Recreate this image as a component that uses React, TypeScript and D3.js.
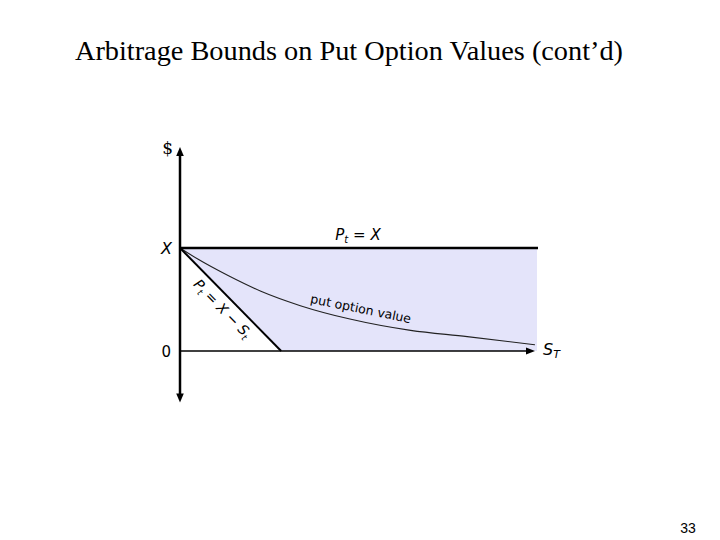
import React from 'react';
import * as d3 from 'd3';

// values (strike X = 100)
const strike = 100;
const stockPrices = [0, 18, 48, 80, 119, 168, 228, 284, 351];
const putValues = [100, 89, 73, 58, 44, 31, 20, 14, 6];
const sMax = 353;
const yTop = 198;
const yBottom = -50;

const title = 'Arbitrage Bounds on Put Option Values (cont\u2019d)';
const pageNumber = '33';

const width = 720;
const height = 540;
const labelFont = '"DejaVu Sans", sans-serif';

const App = () => {
  const x = d3.scaleLinear().domain([0, sMax]).range([180, 537]);
  const y = d3.scaleLinear().domain([0, strike]).range([351, 248]);

  const points: [number, number][] = stockPrices.map((s, i) => [s, putValues[i]]);
  const curve = d3
    .line<[number, number]>()
    .x(d => x(d[0]))
    .y(d => y(d[1]))
    .curve(d3.curveMonotoneX)(points);

  const x0 = x(0);
  const y0 = y(0);
  const yX = y(strike);
  const yUp = y(yTop);
  const yDown = y(yBottom);
  const xEnd = x(sMax);

  // shaded region between P = X and zero
  const fillPath = `M${x0},${yX}H${xEnd}V${y0}H${x0}Z`;

  return (
    <svg
      width={width}
      height={height}
      style={{ position: 'absolute', left: 0, top: 0, background: '#fff' }}
    >
      <text
        x={349}
        y={60}
        textAnchor="middle"
        fontFamily='"Liberation Serif", "Times New Roman", serif'
        fontSize={28.3}
      >
        {title}
      </text>

      <path d={fillPath} fill="#e4e4fa" />
      {/* intrinsic value triangle left white */}
      <path d={`M${x0},${yX}L${x(strike)},${y0}H${x0}Z`} fill="#fff" />

      {/* put option value curve */}
      <path d={curve || ''} fill="none" stroke="#222" strokeWidth={1.1} />

      {/* P = X - S line */}
      <line x1={x0} y1={yX} x2={x(strike)} y2={y0} stroke="#000" strokeWidth={2} />

      {/* P = X line */}
      <line x1={x0} y1={yX} x2={xEnd + 1} y2={yX} stroke="#000" strokeWidth={2.5} />

      {/* zero axis with arrow */}
      <line x1={x0} y1={y0} x2={xEnd - 6} y2={y0} stroke="#000" strokeWidth={1.3} />
      <path d={`M${xEnd - 2},${y0}l-9,-3.5v7Z`} fill="#000" />

      {/* vertical axis with arrows */}
      <line x1={x0} y1={yUp + 6} x2={x0} y2={yDown - 6} stroke="#000" strokeWidth={2.5} />
      <path d={`M${x0},${yUp}l-3.8,9h7.6Z`} fill="#000" />
      <path d={`M${x0},${yDown}l-3.8,-9h7.6Z`} fill="#000" />

      <g fontFamily={labelFont} fill="#000">
        <text x={173} y={154} textAnchor="end" fontSize={17} fontFamily='"DejaVu Serif", serif'>$</text>
        <text x={172} y={254} textAnchor="end" fontSize={16} fontStyle="italic">X</text>
        <text x={171} y={357} textAnchor="end" fontSize={15}>0</text>

        <text x={358} y={240} textAnchor="middle" fontSize={15} fontStyle="italic">
          P<tspan fontSize={10} dy={3}>t</tspan>
          <tspan dy={-3}> = X</tspan>
        </text>

        <text
          transform="translate(219,312) rotate(45.6)"
          textAnchor="middle"
          fontSize={14}
          fontStyle="italic"
        >
          P<tspan fontSize={9} dy={3}>t</tspan>
          <tspan dy={-3}> = X − S</tspan>
          <tspan fontSize={9} dy={3}>t</tspan>
        </text>

        <text
          transform="translate(360,313) rotate(11.5)"
          textAnchor="middle"
          fontSize={12.5}
        >
          put option value
        </text>

        <text x={543} y={355} fontSize={16} fontStyle="italic">
          S<tspan fontSize={11} dy={3}>T</tspan>
        </text>
      </g>

      <text
        x={688}
        y={533}
        textAnchor="middle"
        fontFamily='"Liberation Sans", Arial, sans-serif'
        fontSize={14}
      >
        {pageNumber}
      </text>
    </svg>
  );
};

export default App;
